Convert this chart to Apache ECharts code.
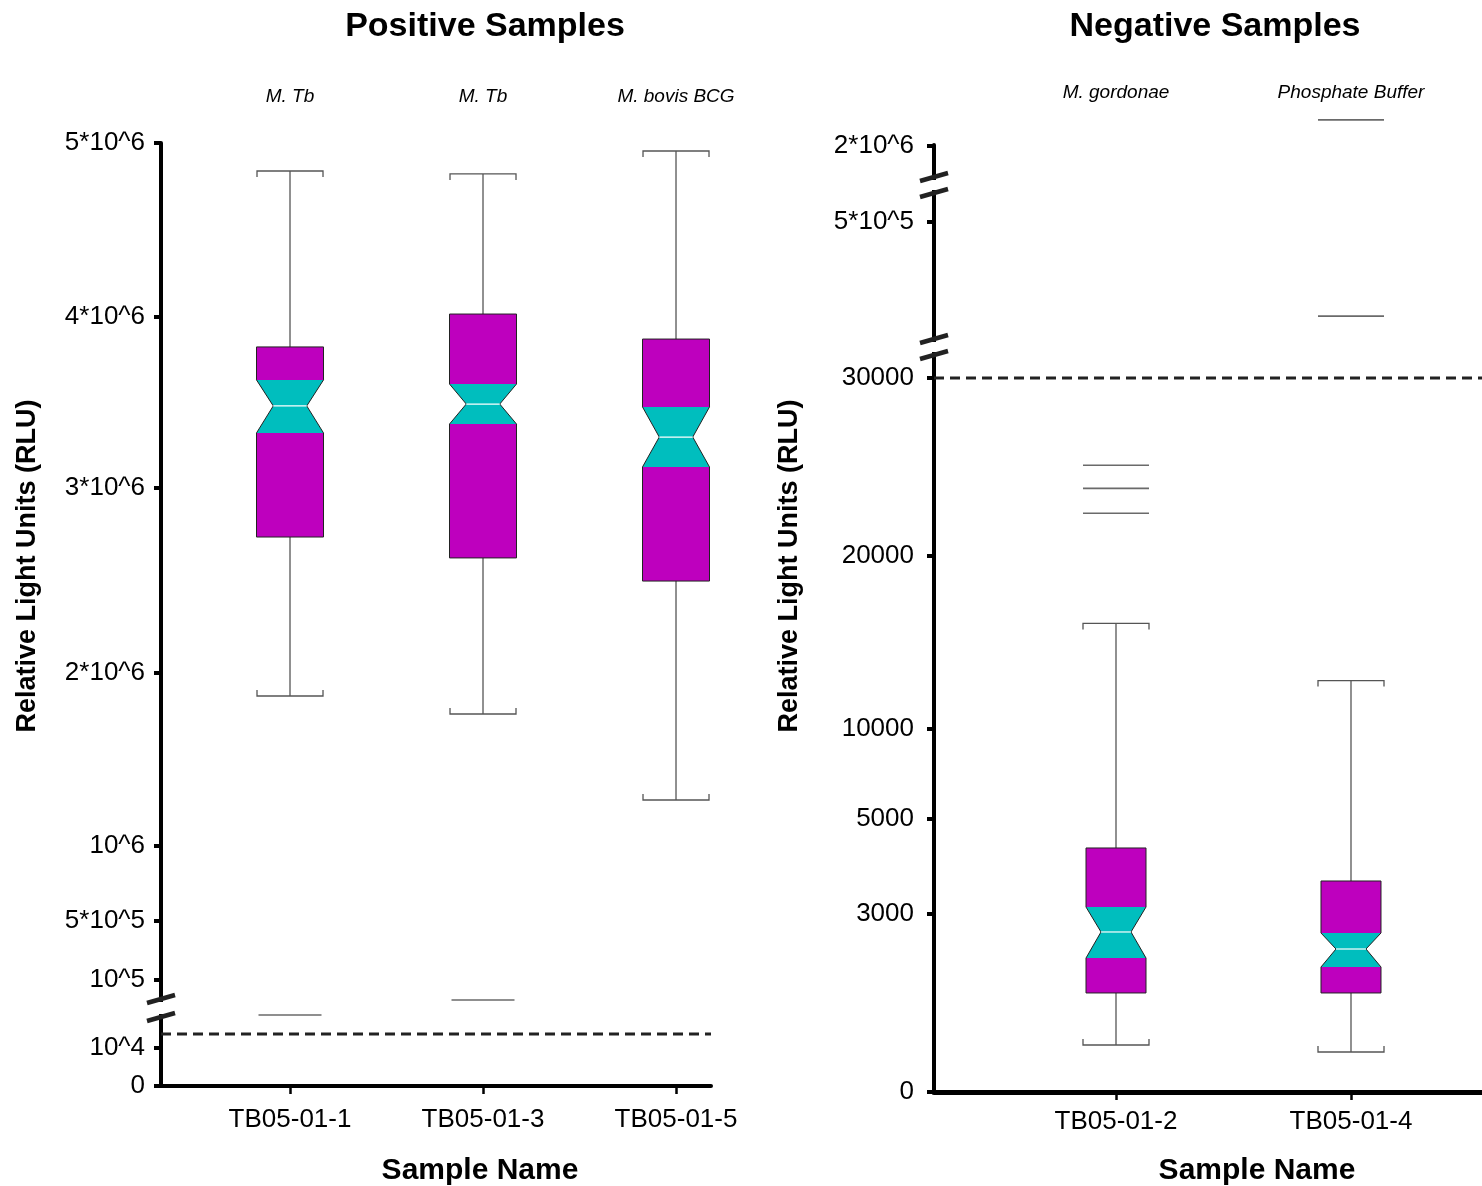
<!DOCTYPE html>
<html><head><meta charset="utf-8">
<script src="https://cdn.jsdelivr.net/npm/echarts@6/dist/echarts.min.js"></script>
<style>html,body{margin:0;padding:0;background:#fff}#c{width:1482px;height:1186px}</style>
</head><body><div id="c"></div>
<script>
// ================= DATA =================
// Positive samples
const posCategories = ['TB05-01-1', 'TB05-01-3', 'TB05-01-5'];
const posOrganisms = ['M. Tb', 'M. Tb', 'M. bovis BCG'];
const posLowWhisker = [1867000, 1763000, 1266000];
const posQ1 = [2735000, 2622000, 2497000];
const posNotchLow = [3322000, 3374000, 3123000];
const posMedian = [3480000, 3491000, 3298000];
const posNotchHigh = [3632000, 3608000, 3474000];
const posQ3 = [3825000, 4017000, 3871000];
const posHighWhisker = [4839000, 4822000, 4954000];
const posOutlierCat = [0, 1];
const posOutlierVal = [18700, 61500];
const posCutoff = 13700;
const posTickValues = [0, 1e4, 1e5, 5e5, 1e6, 2e6, 3e6, 4e6, 5e6];
const posTickLabels = ['0', '10^4', '10^5', '5*10^5', '10^6', '2*10^6', '3*10^6', '4*10^6', '5*10^6'];

// Negative samples
const negCategories = ['TB05-01-2', 'TB05-01-4'];
const negOrganisms = ['M. gordonae', 'Phosphate Buffer'];
const negLowWhisker = [792, 674];
const negQ1 = [1669, 1669];
const negNotchLow = [2258, 2107];
const negMedian = [2697, 2410];
const negNotchHigh = [3147, 2680];
const negQ3 = [4390, 3695];
const negHighWhisker = [16100, 12800];
const negOutlierCat = [0, 0, 0, 1, 1];
const negOutlierVal = [25100, 23800, 22400, 2450000, 164000];
const negCutoff = 30000;
const negTickValues = [0, 3000, 5000, 10000, 20000, 30000, 5e5, 2e6];
const negTickLabels = ['0', '3000', '5000', '10000', '20000', '30000', '5*10^5', '2*10^6'];

// ============ BROKEN-AXIS SCALES (value -> linear axis units) ============
const posScale = [
  [[0, 0], [1e4, 38], [2e4, 76]],
  [[5e4, 80], [1e5, 106], [5e5, 165], [1e6, 240], [2e6, 413], [3e6, 598], [4e6, 769], [5e6, 943]]
];
const negScale = [
  [[0, 0], [3000, 178], [5000, 273], [10000, 363], [20000, 536], [30000, 714], [31000, 732]],
  [[1e5, 758], [5e5, 870], [6.5e5, 897]],
  [[1.5e6, 917], [2e6, 946]]
];
function toAxis(scale, v) {
  let seg = scale[scale.length - 1];
  for (const s of scale) { if (v <= s[s.length - 1][0]) { seg = s; break; } }
  let i = 0;
  while (i < seg.length - 2 && v > seg[i + 1][0]) i++;
  const [v0, a0] = seg[i], [v1, a1] = seg[i + 1];
  return a0 + (v - v0) * (a1 - a0) / (v1 - v0);
}
function breaksOf(scale) {
  const out = [];
  for (let i = 0; i < scale.length - 1; i++) {
    const a = scale[i][scale[i].length - 1][1], b = scale[i + 1][0][1];
    out.push((a + b) / 2);
  }
  return out;
}

// ============ LAYOUT ============
const FONT = '"Liberation Sans", Arial, Helvetica, sans-serif';
const posGrid = { left: 161, top: 143, width: 550, height: 943 };
const negGrid = { left: 934, top: 145, width: 548, height: 947 };
const posX = { min: 0.3316, max: 3.1813 };
const negX = { min: 0.22553, max: 2.55745 };
const posYMax = 943, negYMax = 947;

const MAGENTA = '#BE00BE', TEAL = '#00BEBE';

function boxData(scale, lw, q1, nl, md, nh, q3, hw) {
  return md.map((_, i) => [i + 1, toAxis(scale, lw[i]), toAxis(scale, q1[i]), toAxis(scale, nl[i]),
    toAxis(scale, md[i]), toAxis(scale, nh[i]), toAxis(scale, q3[i]), toAxis(scale, hw[i])]);
}

function boxSeries(gi, data, halfW, capHalf) {
  return {
    type: 'custom', xAxisIndex: gi, yAxisIndex: gi, clip: false, z: 5, data,
    renderItem(params, api) {
      const x = api.value(0);
      const py = k => api.coord([x, api.value(k)])[1];
      const cx = api.coord([x, 0])[0];
      const lw = py(1), q1 = py(2), nl = py(3), md = py(4), nh = py(5), q3 = py(6), hw = py(7);
      const L = cx - halfW, R = cx + halfW, nw = halfW / 2;
      const ws = { stroke: '#555', lineWidth: 1.3, fill: null };
      const ch = [];
      ch.push({ type: 'line', shape: { x1: cx, y1: q3, x2: cx, y2: hw }, style: ws });
      ch.push({ type: 'polyline', shape: { points: [[cx - capHalf, hw + 6], [cx - capHalf, hw], [cx + capHalf, hw], [cx + capHalf, hw + 6]] }, style: ws });
      ch.push({ type: 'line', shape: { x1: cx, y1: q1, x2: cx, y2: lw }, style: ws });
      ch.push({ type: 'polyline', shape: { points: [[cx - capHalf, lw - 6], [cx - capHalf, lw], [cx + capHalf, lw], [cx + capHalf, lw - 6]] }, style: ws });
      ch.push({ type: 'rect', shape: { x: L, y: q3, width: R - L, height: nh - q3 }, style: { fill: MAGENTA } });
      ch.push({ type: 'rect', shape: { x: L, y: nl, width: R - L, height: q1 - nl }, style: { fill: MAGENTA } });
      ch.push({ type: 'polygon', shape: { points: [[L, nh], [R, nh], [R - nw, md], [R, nl], [L, nl], [L + nw, md]] }, style: { fill: TEAL } });
      ch.push({ type: 'polygon', shape: { points: [[L, q3], [R, q3], [R, nh], [R - nw, md], [R, nl], [R, q1], [L, q1], [L, nl], [L + nw, md], [L, nh]] },
        style: { fill: null, stroke: '#222', lineWidth: 1 } });
      ch.push({ type: 'line', shape: { x1: L + nw, y1: md, x2: R - nw, y2: md }, style: { stroke: '#fff', lineWidth: 1.2 } });
      return { type: 'group', children: ch };
    }
  };
}

function outlierSeries(gi, cats, vals, scale, half) {
  return {
    type: 'custom', xAxisIndex: gi, yAxisIndex: gi, clip: false, z: 5,
    data: vals.map((v, i) => [cats[i] + 1, toAxis(scale, v)]),
    renderItem(params, api) {
      const p = api.coord([api.value(0), api.value(1)]);
      return { type: 'line', shape: { x1: p[0] - half, y1: p[1], x2: p[0] + half, y2: p[1] }, style: { stroke: '#6a6a6a', lineWidth: 1.6 } };
    }
  };
}

function breakSeries(gi, xmin, scale, gap) {
  return {
    type: 'custom', xAxisIndex: gi, yAxisIndex: gi, clip: false, z: 10,
    data: breaksOf(scale).map(d => [xmin, d]),
    renderItem(params, api) {
      const p = api.coord([api.value(0), api.value(1)]);
      const x = p[0], y = p[1];
      const st = { stroke: '#222', lineWidth: 4.5 };
      return { type: 'group', children: [
        { type: 'rect', shape: { x: x - 4, y: y - gap + 3, width: 8, height: 2 * gap - 6 }, style: { fill: '#fff' } },
        { type: 'line', shape: { x1: x - 14, y1: y - gap + 4, x2: x + 14, y2: y - gap - 4 }, style: st },
        { type: 'line', shape: { x1: x - 14, y1: y + gap + 4, x2: x + 14, y2: y + gap - 4 }, style: st }
      ] };
    }
  };
}

function cutoffSeries(gi, xr, scale, v) {
  const d = toAxis(scale, v);
  return {
    type: 'line', xAxisIndex: gi, yAxisIndex: gi, symbol: 'none', z: 4, silent: true,
    data: [[xr.min, d], [xr.max, d]],
    lineStyle: { color: '#222', width: 3, type: [10, 6] }
  };
}

function yAxisOf(gi, scale, max, vals, labels, margin) {
  const cv = vals.map(v => toAxis(scale, v));
  return {
    type: 'value', gridIndex: gi, min: 0, max, splitLine: { show: false },
    axisLine: { show: true, lineStyle: { color: '#000', width: 4 } },
    axisTick: { show: true, customValues: cv, length: 7, lineStyle: { color: '#000', width: 4 } },
    axisLabel: {
      customValues: cv, color: '#000', fontSize: 26, fontFamily: FONT, margin,
      formatter: val => { let bi = 0, bd = Infinity; cv.forEach((c, i) => { if (Math.abs(c - val) < bd) { bd = Math.abs(c - val); bi = i; } }); return labels[bi]; }
    }
  };
}

function xAxisOf(gi, xr, cats, margin) {
  const cv = cats.map((_, i) => i + 1);
  return {
    type: 'value', gridIndex: gi, min: xr.min, max: xr.max, position: 'bottom', splitLine: { show: false },
    axisLine: { show: true, onZero: false, lineStyle: { color: '#000', width: gi === 0 ? 4 : 5 } },
    axisTick: { show: true, customValues: cv, length: 8, lineStyle: { color: '#000', width: 2.5 } },
    axisLabel: { customValues: cv, color: '#000', fontSize: 26, fontFamily: FONT, margin,
      formatter: v => cats[Math.round(v) - 1] || '' }
  };
}
function topAxisOf(gi, xr, names, margin) {
  const cv = names.map((_, i) => i + 1);
  return {
    type: 'value', gridIndex: gi, min: xr.min, max: xr.max, position: 'top', splitLine: { show: false },
    axisLine: { show: false }, axisTick: { show: false },
    axisLabel: { customValues: cv, color: '#000', fontSize: 19, fontStyle: 'italic', fontFamily: FONT, margin,
      formatter: v => names[Math.round(v) - 1] || '' }
  };
}

const chart = echarts.init(document.getElementById('c'), null, { renderer: 'canvas' });
chart.setOption({
  animation: false,
  backgroundColor: '#fff',
  grid: [
    Object.assign({ containLabel: false, outerBoundsMode: 'none' }, posGrid),
    Object.assign({ containLabel: false, outerBoundsMode: 'none' }, negGrid)
  ],
  xAxis: [
    xAxisOf(0, posX, posCategories, 21),
    xAxisOf(1, negX, negCategories, 17),
    topAxisOf(0, posX, posOrganisms, 37),
    topAxisOf(1, negX, negOrganisms, 43)
  ],
  yAxis: [
    yAxisOf(0, posScale, posYMax, posTickValues, posTickLabels, 16),
    yAxisOf(1, negScale, negYMax, negTickValues, negTickLabels, 20)
  ],
  graphic: [
    { type: 'text', x: 485, y: 27, style: { text: 'Positive Samples', font: 'bold 34px ' + FONT, fill: '#000', align: 'center', verticalAlign: 'middle' } },
    { type: 'text', x: 1215, y: 27, style: { text: 'Negative Samples', font: 'bold 34px ' + FONT, fill: '#000', align: 'center', verticalAlign: 'middle' } },
    { type: 'text', x: 480, y: 1171, style: { text: 'Sample Name', font: 'bold 30px ' + FONT, fill: '#000', align: 'center', verticalAlign: 'middle' } },
    { type: 'text', x: 1257, y: 1171, style: { text: 'Sample Name', font: 'bold 30px ' + FONT, fill: '#000', align: 'center', verticalAlign: 'middle' } },
    { type: 'text', x: 28, y: 566, rotation: Math.PI / 2, style: { text: 'Relative Light Units (RLU)', font: 'bold 27px ' + FONT, fill: '#000', align: 'center', verticalAlign: 'middle' } },
    { type: 'text', x: 790, y: 566, rotation: Math.PI / 2, style: { text: 'Relative Light Units (RLU)', font: 'bold 27px ' + FONT, fill: '#000', align: 'center', verticalAlign: 'middle' } }
  ],
  series: [
    cutoffSeries(0, posX, posScale, posCutoff),
    cutoffSeries(1, negX, negScale, negCutoff),
    boxSeries(0, boxData(posScale, posLowWhisker, posQ1, posNotchLow, posMedian, posNotchHigh, posQ3, posHighWhisker), 33.5, 33),
    boxSeries(1, boxData(negScale, negLowWhisker, negQ1, negNotchLow, negMedian, negNotchHigh, negQ3, negHighWhisker), 30, 33),
    outlierSeries(0, posOutlierCat, posOutlierVal, posScale, 31.5),
    outlierSeries(1, negOutlierCat, negOutlierVal, negScale, 33),
    breakSeries(0, posX.min, posScale, 9),
    breakSeries(1, negX.min, negScale, 8)
  ]
});
</script>
</body></html>
